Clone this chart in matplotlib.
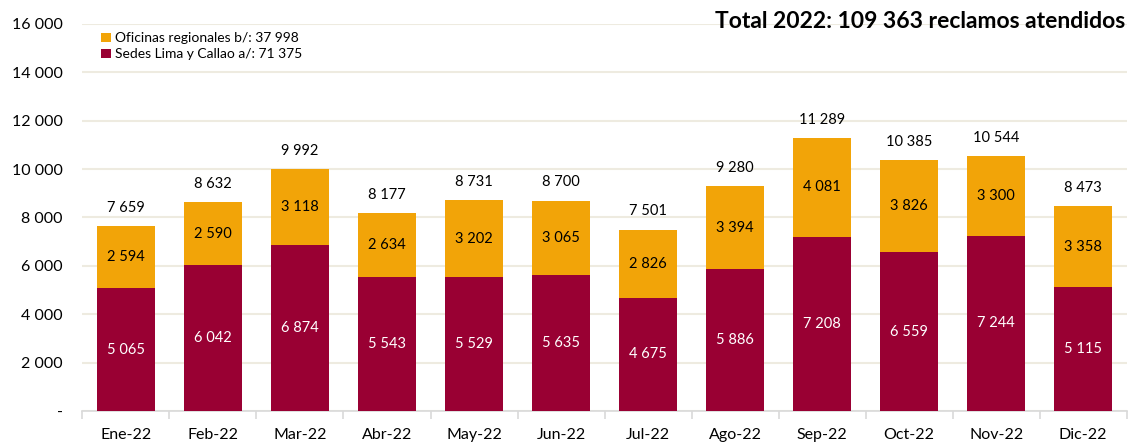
import numpy as np
import matplotlib
matplotlib.use("Agg")
import matplotlib.pyplot as plt
from matplotlib.ticker import FuncFormatter

plt.rcParams['font.family'] = ['Lato', 'DejaVu Sans']

meses = ["Ene-22", "Feb-22", "Mar-22", "Abr-22", "May-22", "Jun-22",
         "Jul-22", "Ago-22", "Sep-22", "Oct-22", "Nov-22", "Dic-22"]
sedes = [5065, 6042, 6874, 5543, 5529, 5635, 4675, 5886, 7208, 6559, 7244, 5115]
oficinas = [2594, 2590, 3118, 2634, 3202, 3065, 2826, 3394, 4081, 3826, 3300, 3358]

c_sedes = "#990033"
c_ofi = "#F2A408"

def miles(v):
    return "{:,.0f}".format(v).replace(",", " ")

x = np.arange(len(meses))
total = np.array(sedes) + np.array(oficinas)

fig = plt.figure(figsize=(11.29, 4.47), dpi=100)
ax = fig.add_axes([0.073, 0.0805, 0.925, 0.866])

b1 = ax.bar(x, sedes, width=0.667, color=c_sedes, label="Sedes Lima y Callao a/: 71 375", zorder=3)
b2 = ax.bar(x, oficinas, width=0.667, bottom=sedes, color=c_ofi,
            label="Oficinas regionales b/: 37 998", zorder=3)

for i in range(len(meses)):
    ax.text(x[i], sedes[i] / 2, miles(sedes[i]), ha="center", va="center",
            color="white", fontsize=10.5, zorder=4)
    ax.text(x[i], sedes[i] + oficinas[i] / 2, miles(oficinas[i]), ha="center",
            va="center", color="black", fontsize=10.5, zorder=4)
    ax.annotate(miles(total[i]), (x[i], total[i]), xytext=(0, 8),
                textcoords="offset points", ha="center", va="bottom",
                fontsize=10.5, color="black")

ax.set_ylim(0, 16000)
ax.set_xlim(-0.5, len(meses) - 0.5)
ax.set_yticks(np.arange(0, 16001, 2000))
ax.yaxis.set_major_formatter(FuncFormatter(lambda v, p: "-" if v == 0 else miles(v)))
ax.grid(axis="y", color="#EEEBE0", linewidth=1.5, zorder=0)
ax.set_axisbelow(True)

ax.set_xticks(x)
ax.set_xticklabels(meses)
ax.set_xticks(np.arange(-0.5, len(meses)), minor=True)
ax.tick_params(axis="x", which="major", length=0, labelsize=11.5, pad=12)
ax.tick_params(axis="x", which="minor", length=6, color="#D9D9D9", width=1.2)
ax.tick_params(axis="y", length=0, labelsize=11.5, pad=14)

for s in ["top", "right", "left"]:
    ax.spines[s].set_visible(False)
ax.spines["bottom"].set_color("#D9D9D9")
ax.spines["bottom"].set_linewidth(1.2)

leg = ax.legend(handles=[b2, b1], loc="upper left", bbox_to_anchor=(0.01, 1.0),
                frameon=False, fontsize=10, handlelength=0.7, handleheight=0.7,
                handletextpad=0.3, labelspacing=0.3, borderaxespad=0.2)

fig.text(0.997, 0.953, "Total 2022: 109 363 reclamos atendidos", ha="right",
         va="center", fontsize=16.5, fontweight="bold")

fig.savefig("out.png", dpi=100)
